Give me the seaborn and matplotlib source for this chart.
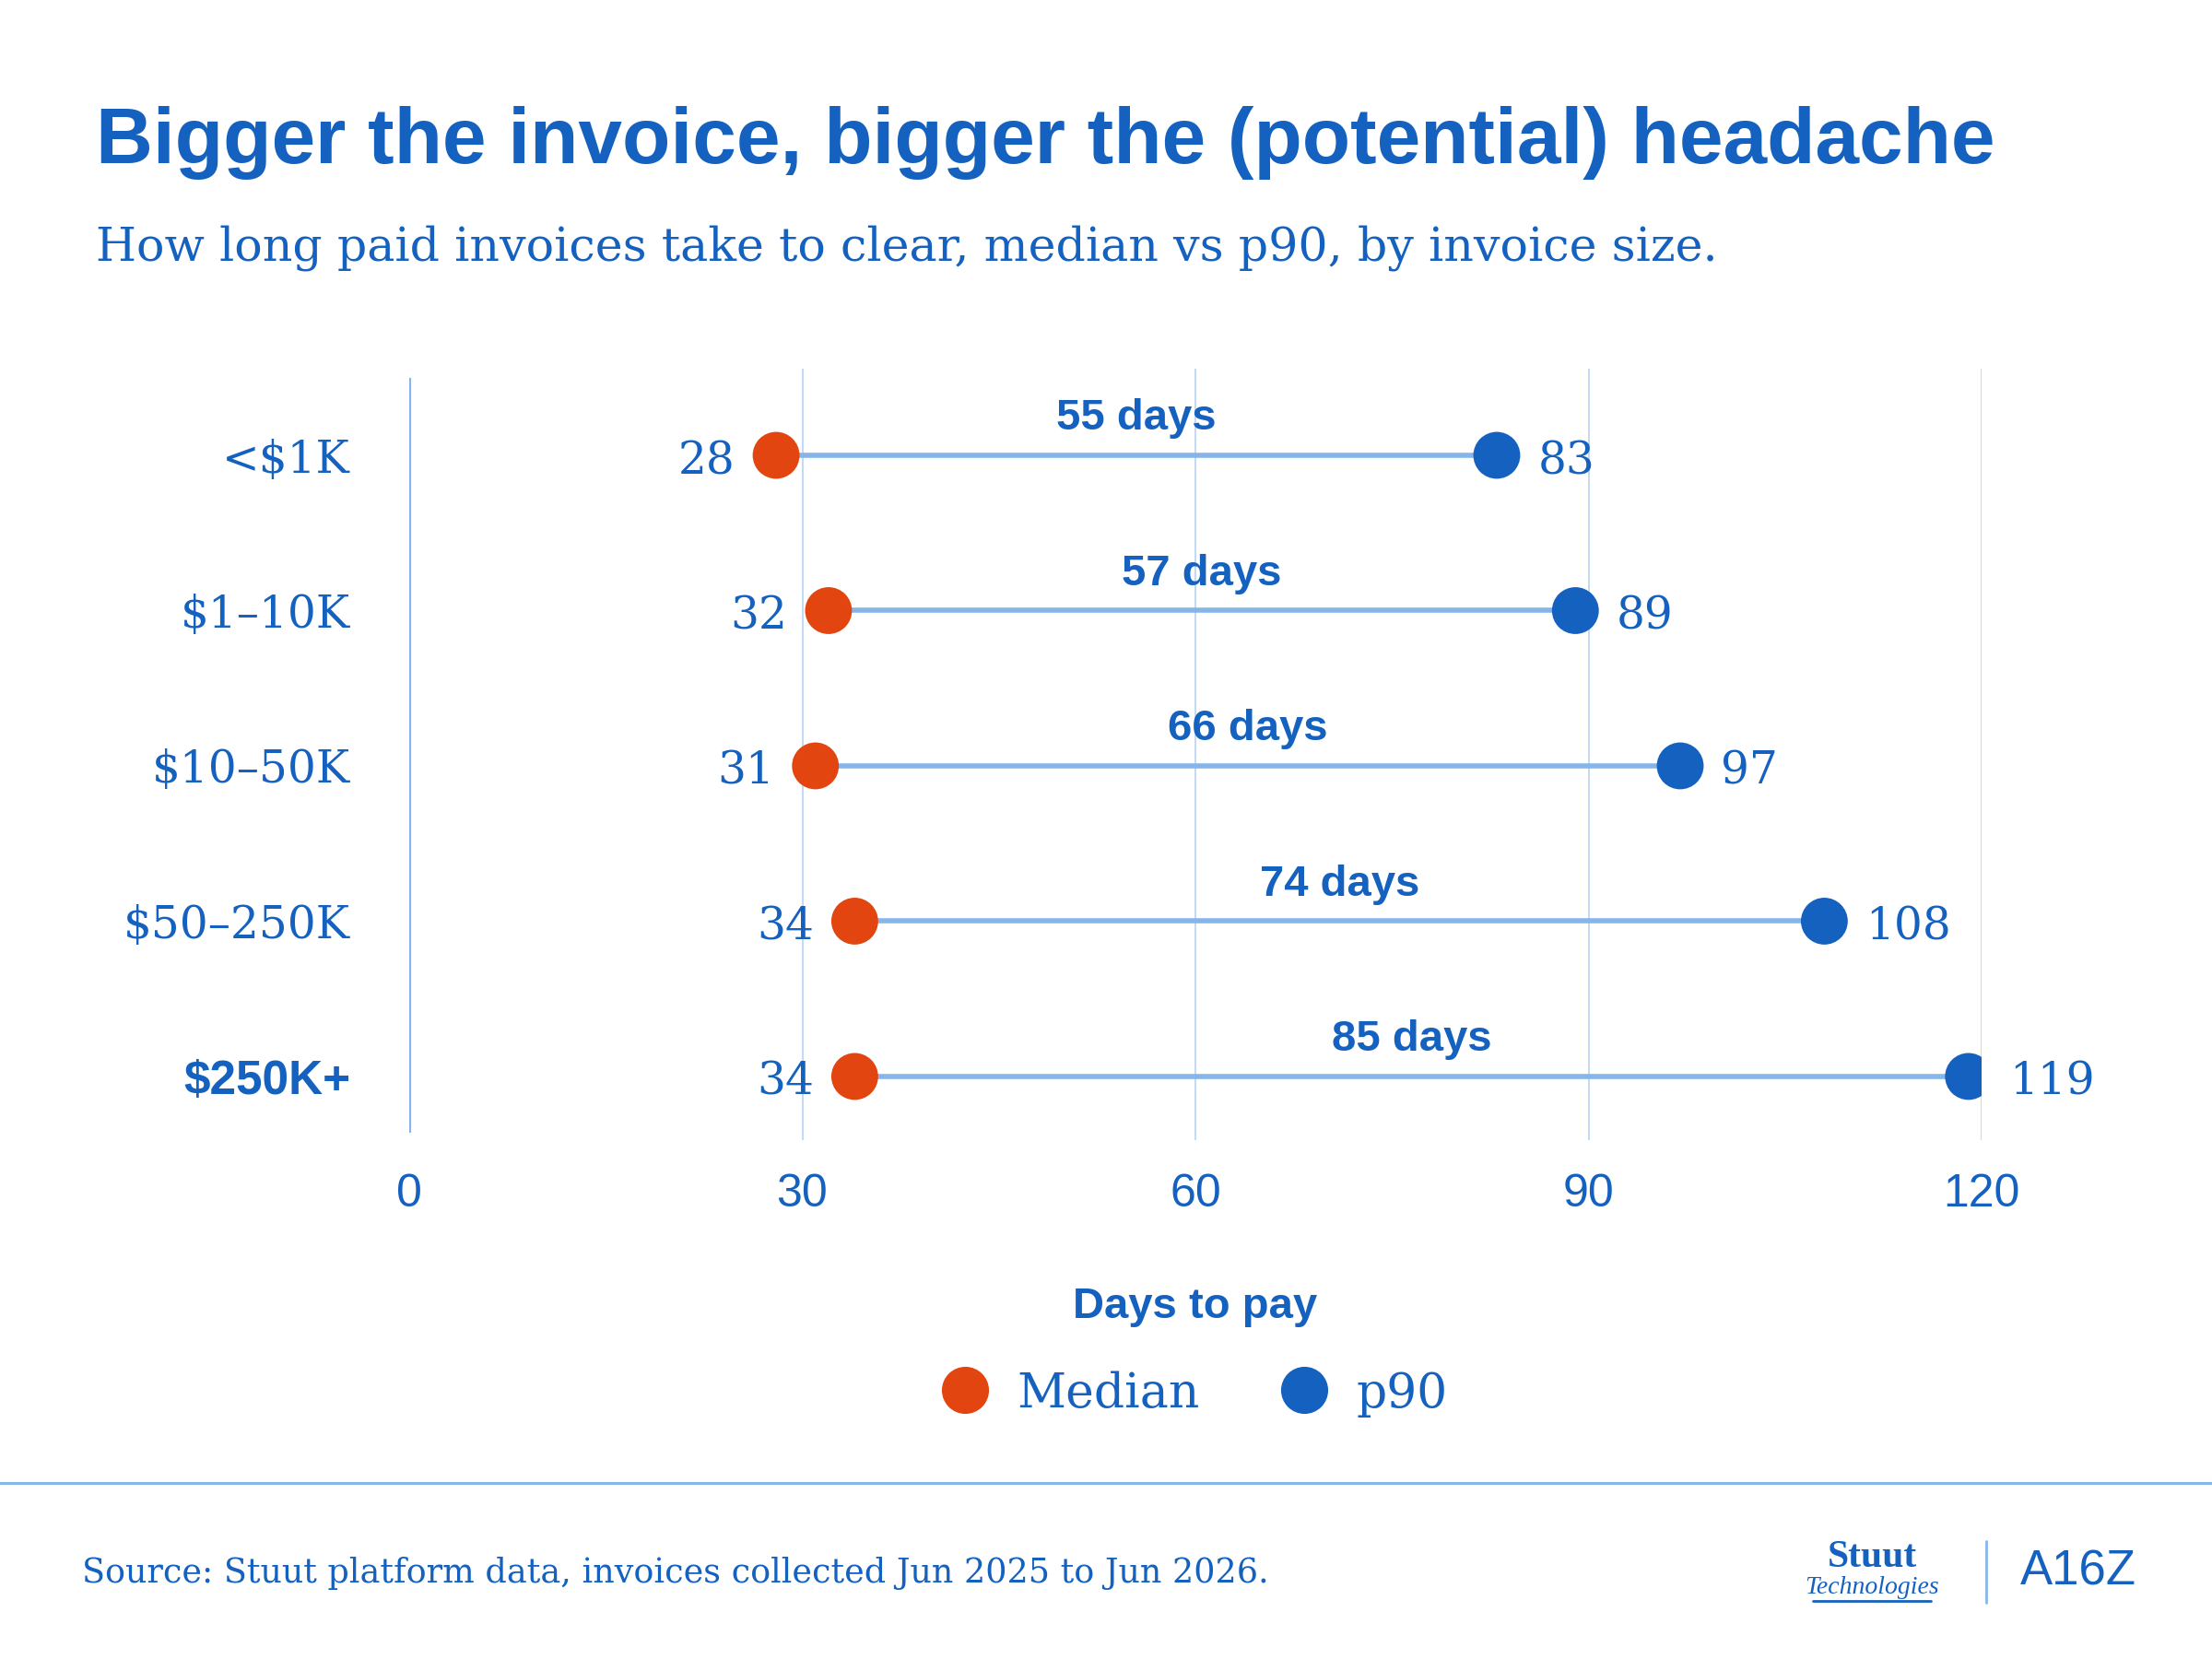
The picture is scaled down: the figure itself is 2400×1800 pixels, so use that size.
import pandas as pd
import matplotlib
matplotlib.use("Agg")
import matplotlib.pyplot as plt
import matplotlib.transforms as mtransforms
from matplotlib.lines import Line2D
import seaborn as sns

# values
sizes = ["<$1K", "$1–10K", "$10–50K", "$50–250K", "$250K+"]
median_days = [28, 32, 31, 34, 34]
p90_days = [83, 89, 97, 108, 119]
x_ticks = [0, 30, 60, 90, 120]

BLUE = "#1561BF"
ORANGE = "#E2450F"
LINE = "#86B5EA"
GRID = "#C3D8F4"
SERIF = ["DejaVu Serif"]
SANS = ["Liberation Sans", "DejaVu Sans"]

sns.set_theme(style="white")
plt.rcParams["font.family"] = SANS

df = pd.DataFrame({"size": sizes, "Median": median_days, "p90": p90_days})
df["row"] = range(len(df))
df["gap"] = df["p90"] - df["Median"]
long_df = df.melt(id_vars=["size", "row"], value_vars=["Median", "p90"],
                  var_name="stat", value_name="days")

W, H = 2400, 1800
fig = plt.figure(figsize=(12, 9), dpi=200)
fig.patch.set_facecolor("white")
ax = fig.add_axes([444 / W, 1 - 1237 / H, (2150 - 444) / W, (1237 - 400) / H])

# connectors first, dots on top
ax.hlines(df["row"], df["Median"], df["p90"], color=LINE, lw=2.0, zorder=2)
sns.scatterplot(data=long_df, x="days", y="row", hue="stat",
                palette={"Median": ORANGE, "p90": BLUE}, s=335, linewidth=0,
                legend=False, zorder=3, ax=ax)

ax.set_xlim(0, 120)
ax.set_ylim(4.41, -0.558)
sns.despine(ax=ax, left=True, bottom=True)

# grid + y axis line at zero
ax.set_xticks(x_ticks)
ax.set_xticklabels([str(t) for t in x_ticks])
ax.grid(axis="x", color=GRID, lw=0.7)
ax.grid(axis="y", visible=False)
ax.xaxis.get_gridlines()[0].set_visible(False)
ax.vlines(0, -0.5, 4.36, color=LINE, lw=1.5, zorder=1)
ax.tick_params(axis="x", length=0, pad=13, labelsize=18, labelcolor=BLUE)

ax.set_yticks(df["row"])
ax.set_yticklabels(sizes)
ax.tick_params(axis="y", length=0, pad=23, labelsize=17.5, labelcolor=BLUE)
for lab in ax.get_yticklabels()[:-1]:
    lab.set_fontfamily(SERIF)
last = ax.get_yticklabels()[-1]
last.set_fontweight("bold")
last.set_fontsize(18.5)
ax.set_xlabel("")
ax.set_ylabel("")

# value labels
for _, r in df.iterrows():
    ax.annotate(str(r["Median"]), (r["Median"], r["row"]), xytext=(-16, -7.2),
                textcoords="offset points", ha="right", va="baseline",
                family=SERIF, fontsize=17.5, color=BLUE)
    ax.annotate(str(r["p90"]), (r["p90"], r["row"]), xytext=(16, -7.2),
                textcoords="offset points", ha="left", va="baseline",
                family=SERIF, fontsize=17.5, color=BLUE)
    ax.annotate(f"{r['gap']} days", ((r["Median"] + r["p90"]) / 2, r["row"]),
                xytext=(0, 10), textcoords="offset points", ha="center",
                va="baseline", fontsize=17, weight="bold", color=BLUE)

# axis title under ticks
trans = mtransforms.blended_transform_factory(ax.transData, fig.transFigure)
ax.text(60, 1 - 1430 / H, "Days to pay", transform=trans, ha="center",
        va="baseline", fontsize=17, weight="bold", color=BLUE)

# legend
handles = [Line2D([], [], marker="o", ls="", ms=18.4, color=ORANGE, mec="none"),
           Line2D([], [], marker="o", ls="", ms=18.4, color=BLUE, mec="none")]
leg = fig.legend(handles, ["Median", "p90"], loc="center",
                 bbox_to_anchor=(1296 / W, 1 - 1512 / H), ncol=2, frameon=False,
                 prop={"family": SERIF, "size": 18.7}, handlelength=1.0,
                 handletextpad=0.58, columnspacing=1.69)
for t in leg.get_texts():
    t.set_color(BLUE)

# titles
title = fig.text(104 / W, 1 - 177 / H, "Bigger the invoice, bigger the (potential) headache",
                 fontsize=31, weight="bold", color=BLUE, va="baseline")
subtitle = fig.text(104 / W, 1 - 282 / H,
                    "How long paid invoices take to clear, median vs p90, by invoice size.",
                    fontsize=19, family=SERIF, color=BLUE, va="baseline")

# footer
fig.add_artist(Line2D([0, 1], [1 - 1609 / H] * 2, transform=fig.transFigure,
                      color=LINE, lw=1.1))
source = fig.text(89 / W, 1 - 1717 / H,
                  "Source: Stuut platform data, invoices collected Jun 2025 to Jun 2026.",
                  fontsize=13, family=SERIF, color=BLUE, va="baseline")

fig.text(2031 / W, 1 - 1700 / H, "Stuut", ha="center", va="baseline",
         family="Liberation Serif", weight="bold", fontsize=15, color=BLUE)
fig.text(2031 / W, 1 - 1729 / H, "Technologies", ha="center", va="baseline",
         family="Liberation Serif", style="italic", fontsize=10, color=BLUE)
fig.add_artist(Line2D([1967 / W, 2095 / W], [1 - 1737 / H] * 2,
                      transform=fig.transFigure, color=BLUE, lw=1.0))
fig.add_artist(Line2D([2155 / W] * 2, [1 - 1672 / H, 1 - 1739 / H],
                      transform=fig.transFigure, color=LINE, lw=1.0))
fig.text(2255 / W, 1 - 1706 / H, "A16Z", ha="center", va="center",
         fontsize=19, color=BLUE)

# size long texts to the reference widths
fig.canvas.draw()
renderer = fig.canvas.get_renderer()
for txt, target in [(title, 2062), (subtitle, 1760), (source, 1288)]:
    w = txt.get_window_extent(renderer).width
    txt.set_fontsize(txt.get_fontsize() * target / w)

fig.savefig("out.png", dpi=200, facecolor="white")
